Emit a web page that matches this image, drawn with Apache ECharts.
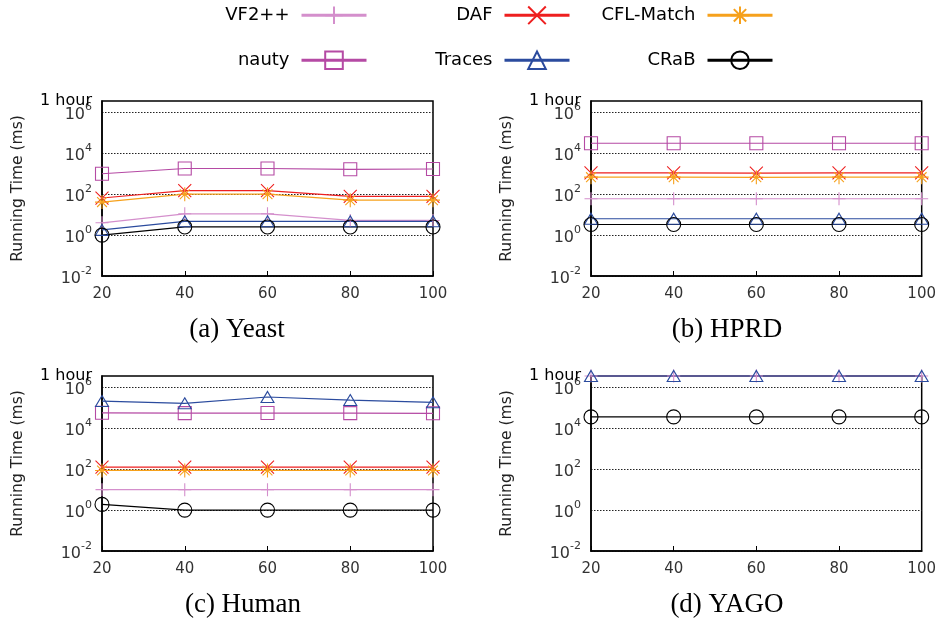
<!DOCTYPE html>
<html><head><meta charset="utf-8">
<script src="https://cdn.jsdelivr.net/npm/echarts@6/dist/echarts.min.js"></script>
<style>html,body{margin:0;padding:0;background:#fff}#c{width:939px;height:621px}</style>
</head><body><div id="c"></div>
<script>
// ---- data ----
const xLabels = ['20', '40', '60', '80', '100'];
const seriesNames = ['VF2++', 'DAF', 'CFL-Match', 'nauty', 'Traces', 'CRaB'];
const panelTitles = ['(a) Yeast', '(b) HPRD', '(c) Human', '(d) YAGO'];
const ONE_HOUR_MS = 3600000;
const ONE_HOUR_LABEL = '1 hour';
const Y_MIN = 0.01;

// (a) Yeast, running time in ms
const yeastVF2 = [4, 11, 11, 5.2, 5.2];
const yeastNauty = [1000, 1800, 1800, 1650, 1700];
const yeastDAF = [65, 150, 150, 78, 78];
const yeastCFL = [41, 100, 100, 51, 51];
const yeastTraces = [1.8, 4.7, 4.7, 4.7, 4.7];
const yeastCRaB = [1, 2.5, 2.5, 2.5, 2.5];
// (b) HPRD
const hprdVF2 = [60, 60, 60, 60, 60];
const hprdNauty = [31000, 31000, 31000, 31000, 31000];
const hprdDAF = [1100, 1100, 1080, 1100, 1100];
const hprdCFL = [680, 680, 670, 680, 680];
const hprdTraces = [6.3, 6.3, 6.3, 6.3, 6.3];
const hprdCRaB = [3.3, 3.3, 3.3, 3.3, 3.3];
// (c) Human
const humanVF2 = [10, 10, 10, 10, 10];
const humanNauty = [57000, 55000, 56000, 55000, 54000];
const humanDAF = [127, 127, 127, 127, 127];
const humanCFL = [87, 87, 87, 87, 87];
const humanTraces = [214000, 166000, 339000, 240000, 186000];
const humanCRaB = [1.9, 1, 1, 1, 1];
// (d) YAGO
const yagoVF2 = [3600000, 3600000, 3600000, 3600000, 3600000];
const yagoTraces = [3600000, 3600000, 3600000, 3600000, 3600000];
const yagoCRaB = [36000, 36000, 36000, 36000, 36000];

const panelData = [
  { 'VF2++': yeastVF2, 'nauty': yeastNauty, 'DAF': yeastDAF, 'CFL-Match': yeastCFL, 'Traces': yeastTraces, 'CRaB': yeastCRaB },
  { 'VF2++': hprdVF2, 'nauty': hprdNauty, 'DAF': hprdDAF, 'CFL-Match': hprdCFL, 'Traces': hprdTraces, 'CRaB': hprdCRaB },
  { 'VF2++': humanVF2, 'nauty': humanNauty, 'DAF': humanDAF, 'CFL-Match': humanCFL, 'Traces': humanTraces, 'CRaB': humanCRaB },
  { 'VF2++': yagoVF2, 'Traces': yagoTraces, 'CRaB': yagoCRaB }
];

// ---- styles ----
const PLUS = 'path://M10,0L10,20M0,10L20,10';
const CROSS = 'path://M0,0L20,20M20,0L0,20';
const STAR = 'path://M10,0L10,20M0,10L20,10M3,3L17,17M17,3L3,17';
const look = {
  'VF2++':     { color: '#d48fcc', symbol: PLUS, size: 13 },
  'nauty':     { color: '#b54aa4', symbol: 'rect', size: 13 },
  'DAF':       { color: '#ee1f1f', symbol: CROSS, size: 13 },
  'CFL-Match': { color: '#f6a11c', symbol: STAR, size: 14 },
  'Traces':    { color: '#2b4b9e', symbol: 'triangle', size: [13, 11] },
  'CRaB':      { color: '#000000', symbol: 'circle', size: 14 }
};
const drawOrder = ['VF2++', 'nauty', 'DAF', 'CFL-Match', 'Traces', 'CRaB'];

const gridPos = [
  { left: 102, top: 101, width: 331, height: 175 },
  { left: 591, top: 101, width: 331, height: 175 },
  { left: 102, top: 376, width: 331, height: 175 },
  { left: 591, top: 376, width: 331, height: 175 }
];
const captionPos = [[237, 330], [727, 330], [243, 605], [727, 605]];

const SANS = 'DejaVu Sans';

function isHour(v) { return v >= ONE_HOUR_MS * 0.99; }
function yFmt(v) {
  if (isHour(v)) return '';
  const e = Math.round(Math.log10(v));
  if (e % 2 !== 0) return '';
  return '{base|10}{sup|' + e + '}';
}
function hourFmt(v) { return isHour(v) ? ONE_HOUR_LABEL : ''; }

const grids = [], xAxes = [], yAxes = [], yAxes2 = [], series = [];
gridPos.forEach((g, i) => {
  grids.push(Object.assign({ show: true, borderColor: '#000', borderWidth: 1.5, backgroundColor: 'rgba(0,0,0,0)' }, g));
  xAxes.push({
    gridIndex: i, type: 'category', data: xLabels, boundaryGap: false,
    axisLine: { show: true, lineStyle: { color: '#000', width: 1.5 } },
    axisTick: { show: true, inside: true, length: 5, lineStyle: { color: '#000' } },
    axisLabel: { margin: 11, fontFamily: SANS, fontSize: 15, color: '#333' },
    splitLine: { show: false }
  });
  yAxes.push({
    gridIndex: i, type: 'log', logBase: 10, min: Y_MIN, max: ONE_HOUR_MS, position: 'left',
    axisLine: { show: true, lineStyle: { color: '#000', width: 1.5 } },
    axisTick: { show: false },
    splitLine: { show: true, lineStyle: { color: ['#222', 'rgba(0,0,0,0)'], type: [1.5, 1.5], width: 1 } },
    axisLabel: {
      showMinLabel: true, showMaxLabel: false, margin: 10, formatter: yFmt,
      rich: {
        base: { fontFamily: SANS, fontSize: 16, color: '#333', verticalAlign: 'bottom', lineHeight: 21 },
        sup: { fontFamily: SANS, fontSize: 11, color: '#333', verticalAlign: 'top', lineHeight: 12 }
      }
    },
    name: 'Running Time (ms)', nameLocation: 'middle', nameGap: 76,
    nameTextStyle: { fontFamily: SANS, fontSize: 15.5, color: '#222' }
  });
  // companion axis on the same grid that only carries the "1 hour" label at the top
  yAxes2.push({
    gridIndex: i, type: 'log', logBase: 10, min: Y_MIN, max: ONE_HOUR_MS, position: 'left', offset: 0,
    axisLine: { show: false }, axisTick: { show: false }, splitLine: { show: false },
    axisLabel: { showMinLabel: false, showMaxLabel: true, margin: 10, formatter: hourFmt,
      fontFamily: SANS, fontSize: 16, color: '#000', padding: [3, 0, 0, 0] }
  });
  drawOrder.forEach(name => {
    const vals = panelData[i][name];
    if (!vals) return;
    const lk = look[name];
    series.push({
      type: 'line', name: name, xAxisIndex: i, yAxisIndex: i,
      data: vals, clip: false,
      symbol: lk.symbol, symbolSize: lk.size, showSymbol: true,
      lineStyle: { color: lk.color, width: 1.2 },
      itemStyle: { color: 'none', borderColor: lk.color, borderWidth: 1.1 },
      emphasis: { disabled: true }
    });
  });
});

const legendRight = [571, 368, 165];
const legends = seriesNames.map((name, i) => ({
  data: [name], orient: 'horizontal', align: 'right',
  right: legendRight[i % 3], top: i < 3 ? 4 : 49,
  padding: 0, itemWidth: 65, itemHeight: 22, selectedMode: false,
  textStyle: { fontFamily: SANS, fontSize: 18, color: '#000', padding: [0, 7, 0, 0] },
  lineStyle: { width: 3 },
  itemStyle: { borderWidth: 2 }
}));

const chart = echarts.init(document.getElementById('c'), null, { renderer: 'canvas' });
chart.setOption({
  animation: false,
  backgroundColor: '#fff',
  legend: legends,
  grid: grids, xAxis: xAxes, yAxis: yAxes.concat(yAxes2), series: series,
  graphic: panelTitles.map((t, i) => ({
    type: 'text', x: captionPos[i][0], y: captionPos[i][1],
    style: { text: t, font: '27px "Liberation Serif"', fill: '#000', align: 'center', verticalAlign: 'middle' }
  }))
});
</script></body></html>
